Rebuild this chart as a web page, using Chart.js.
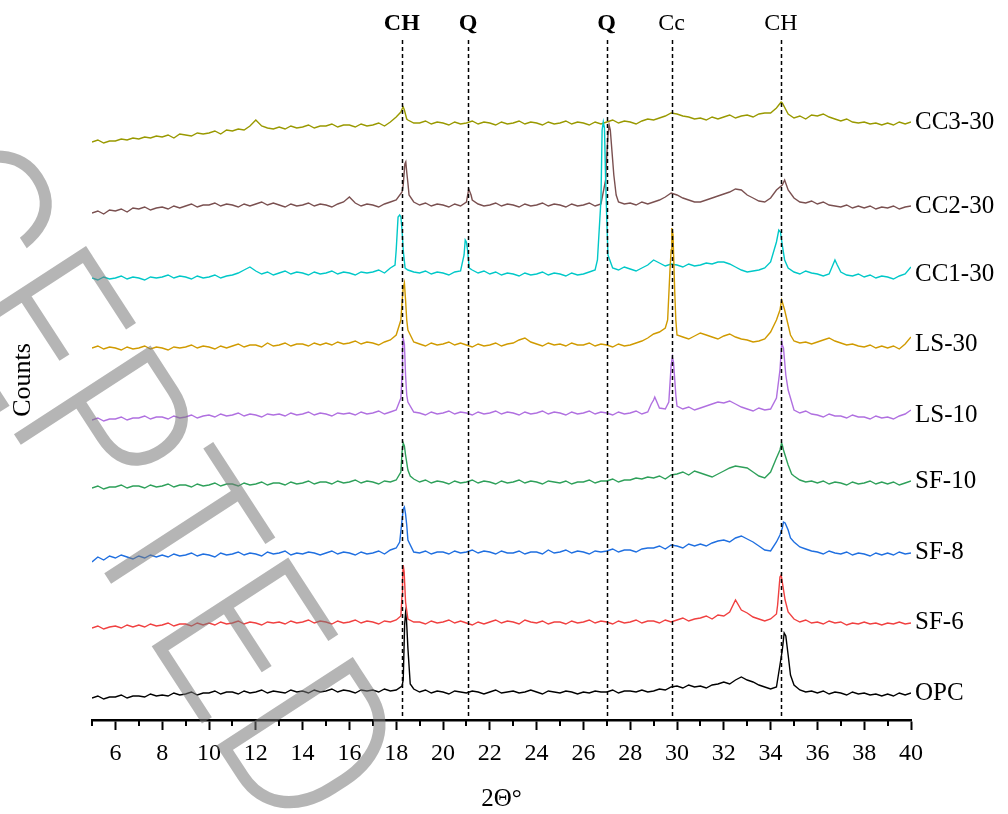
<!DOCTYPE html>
<html>
<head>
<meta charset="utf-8">
<title>XRD patterns</title>
<script src="https://cdn.jsdelivr.net/npm/chart.js@4.4.1/dist/chart.umd.min.js"></script>
<style>
  html, body { margin: 0; padding: 0; background: #fff; }
  canvas { display: block; }
</style>
</head>
<body>
<canvas id="xrd" width="1008" height="814"></canvas>
<script>
// scan grid (2θ, degrees)
const scanStart = 5;
const scanStep = 0.25;
const scanEnd = 40;

const seriesNames = ["OPC", "SF-6", "SF-8", "SF-10", "LS-10", "LS-30", "CC1-30", "CC2-30", "CC3-30"];
const seriesColors = ["#000000", "#f04040", "#1f6fe0", "#2ea05a", "#b070e0", "#d09a00", "#00c8c8", "#7a5050", "#999900"];

// counts on the 0.25° grid (stacked, already offset)
const opc = [
  22, 24, 21, 23, 23, 25, 22, 24, 24, 23, 26, 24, 25, 24, 27, 25, 26, 28, 25, 27,
  27, 29, 26, 28, 28, 26, 29, 27, 28, 30, 27, 29, 28, 27, 30, 28, 29, 27, 30, 28,
  29, 31, 28, 30, 29, 27, 30, 29, 30, 28, 31, 29, 30, 34, 72, 31, 28, 30, 27, 29,
  28, 26, 29, 28, 27, 29, 28, 26, 28, 30, 27, 28, 29, 27, 28, 30, 28, 26, 29, 28,
  27, 29, 28, 26, 28, 27, 29, 28, 28, 30, 27, 29, 29, 28, 30, 28, 29, 31, 30, 33,
  34, 32, 35, 33, 34, 32, 35, 36, 38, 36, 40, 43, 40, 38, 35, 33, 31, 33, 70, 65,
  35, 30, 28, 29, 27, 29, 26, 28, 27, 25, 28, 26, 27, 25, 26, 24, 26, 24, 27, 25,
  27
];
const opcPeaks = [[18.3, 40], [18.36, 95], [18.4, 107], [18.44, 100], [18.6, 36],
  [34.4, 55], [34.58, 87], [34.65, 84], [34.85, 45]];

const sf6 = [
  92, 94, 91, 93, 94, 92, 95, 93, 95, 93, 96, 94, 95, 97, 94, 96, 96, 94, 97, 95,
  97, 95, 98, 96, 97, 99, 96, 98, 97, 95, 98, 97, 98, 96, 99, 97, 98, 100, 97, 99,
  98, 96, 99, 97, 98, 100, 97, 99, 98, 96, 99, 98, 100, 125, 101, 98, 98, 96, 99, 97,
  98, 100, 97, 99, 97, 95, 98, 96, 98, 100, 97, 99, 98, 96, 100, 98, 97, 99, 96, 98,
  98, 96, 99, 97, 98, 100, 97, 99, 98, 96, 99, 97, 98, 100, 97, 99, 99, 97, 100, 98,
  100, 102, 99, 101, 102, 104, 101, 105, 104, 108, 120, 110, 107, 103, 101, 99, 101, 106, 138, 108,
  101, 98, 100, 97, 98, 96, 99, 97, 98, 95, 97, 96, 98, 96, 97, 95, 97, 96, 98, 96,
  97
];
const sf6Peaks = [[18.2, 104], [18.27, 140], [18.3, 155], [18.34, 148], [18.4, 118],
  [34.3, 115], [34.4, 143], [34.45, 145], [34.62, 120]];

const sf8 = [
  158, 163, 160, 164, 162, 165, 163, 161, 164, 162, 165, 163, 165, 163, 166, 164, 165, 167, 164, 166,
  165, 163, 167, 165, 166, 168, 165, 167, 166, 164, 168, 166, 167, 169, 165, 167, 166, 168, 167, 165,
  167, 169, 166, 168, 167, 165, 168, 166, 167, 169, 166, 170, 172, 200, 180, 168, 167, 169, 166, 168,
  168, 166, 169, 167, 168, 170, 167, 169, 168, 166, 169, 167, 167, 169, 166, 168, 168, 166, 170, 167,
  168, 170, 167, 169, 168, 166, 169, 168, 169, 171, 168, 170, 170, 168, 171, 172, 172, 174, 171, 175,
  174, 172, 176, 174, 176, 174, 177, 179, 180, 178, 182, 184, 181, 178, 174, 170, 169, 178, 192, 190,
  178, 173, 171, 169, 168, 166, 169, 167, 166, 168, 165, 167, 166, 164, 167, 165, 167, 165, 168, 166,
  167
];
const sf8Peaks = [[18.15, 178], [18.3, 211], [18.35, 213], [18.4, 206], [18.45, 195],
  [34.4, 185], [34.55, 198], [34.62, 197], [34.85, 182]];

const sf10 = [
  232, 234, 231, 233, 233, 235, 232, 234, 234, 232, 235, 233, 234, 236, 233, 235, 235, 233, 236, 234,
  235, 237, 234, 236, 236, 234, 237, 235, 236, 238, 235, 237, 237, 235, 238, 236, 237, 239, 236, 238,
  238, 236, 239, 237, 238, 240, 237, 239, 238, 236, 239, 238, 240, 268, 250, 241, 238, 240, 237, 239,
  238, 236, 239, 237, 238, 240, 237, 239, 238, 236, 239, 237, 238, 240, 237, 239, 238, 236, 239, 238,
  237, 239, 236, 238, 238, 240, 237, 239, 239, 241, 238, 240, 240, 242, 241, 243, 242, 244, 241, 245,
  246, 248, 245, 249, 247, 245, 243, 246, 249, 252, 254, 253, 252, 248, 244, 242, 248, 262, 275, 255,
  244, 240, 238, 239, 237, 239, 236, 238, 237, 235, 238, 236, 237, 239, 236, 238, 236, 238, 235, 237,
  239
];
const sf10Peaks = [[18.2, 248], [18.3, 277], [18.35, 274], [18.4, 265], [18.6, 244],
  [34.4, 270], [34.47, 277], [34.55, 270], [34.9, 246]];

const ls10 = [
  300, 302, 299, 301, 301, 303, 300, 302, 302, 304, 301, 303, 303, 301, 304, 302, 303, 305, 302, 304,
  305, 303, 306, 304, 305, 307, 304, 306, 305, 303, 306, 305, 306, 304, 307, 305, 306, 308, 305, 307,
  306, 304, 307, 306, 307, 305, 308, 306, 307, 309, 306, 308, 310, 345, 318, 308, 307, 305, 308, 306,
  307, 309, 306, 308, 307, 305, 308, 306, 307, 309, 306, 308, 307, 305, 308, 306, 307, 309, 306, 308,
  307, 305, 308, 306, 307, 309, 306, 308, 307, 305, 308, 306, 307, 309, 306, 308, 320, 312, 311, 355,
  314, 311, 313, 310, 312, 314, 316, 318, 317, 319, 316, 313, 311, 309, 312, 310, 311, 322, 375, 330,
  310, 307, 309, 306, 305, 303, 306, 304, 304, 302, 305, 303, 303, 301, 304, 302, 303, 301, 304, 306,
  310
];
const ls10Peaks = [[18.2, 322], [18.27, 370], [18.3, 382], [18.35, 376], [18.4, 345], [18.45, 325],
  [28.9, 316], [29.05, 323], [29.65, 318], [29.8, 363], [29.85, 358], [29.95, 325],
  [34.4, 350], [34.48, 378], [34.55, 372], [34.65, 345]];

const ls30 = [
  372, 374, 371, 373, 372, 370, 373, 371, 372, 374, 371, 373, 372, 370, 373, 372, 373, 375, 372, 374,
  373, 371, 374, 372, 374, 376, 373, 375, 375, 373, 377, 374, 375, 377, 374, 376, 376, 374, 377, 375,
  377, 375, 378, 376, 377, 379, 376, 378, 377, 375, 378, 380, 385, 418, 390, 378, 376, 374, 377, 375,
  376, 378, 375, 377, 375, 373, 376, 374, 375, 377, 374, 376, 377, 380, 382, 378, 376, 374, 377, 375,
  376, 374, 377, 375, 375, 377, 374, 376, 375, 373, 376, 374, 375, 377, 379, 382, 386, 388, 392, 470,
  385, 383, 381, 384, 387, 385, 383, 381, 384, 386, 383, 381, 380, 378, 379, 381, 388, 400, 418, 395,
  379, 377, 378, 376, 378, 380, 382, 379, 377, 375, 376, 374, 373, 375, 372, 374, 372, 374, 371, 376,
  383
];
const ls30Peaks = [[18.2, 400], [18.3, 432], [18.35, 437], [18.4, 420], [18.45, 400],
  [29.6, 400], [29.7, 450], [29.78, 492], [29.83, 485], [29.9, 430], [29.95, 400],
  [34.4, 410], [34.47, 420], [34.6, 410], [34.85, 385]];

const cc1 = [
  442, 440, 443, 441, 442, 444, 441, 443, 442, 440, 443, 442, 443, 445, 442, 444, 443, 441, 444, 442,
  443, 445, 442, 444, 445, 447, 450, 453, 449, 446, 448, 445, 447, 449, 446, 448, 447, 445, 448, 446,
  447, 449, 446, 448, 447, 445, 448, 447, 448, 450, 447, 452, 470, 490, 450, 448, 447, 449, 446, 448,
  447, 445, 448, 449, 478, 450, 447, 449, 446, 448, 445, 447, 446, 444, 447, 445, 446, 448, 445, 447,
  446, 444, 447, 445, 446, 448, 450, 520, 500, 452, 450, 453, 451, 449, 452, 455, 460, 457, 454, 456,
  455, 453, 456, 454, 455, 457, 456, 458, 458, 456, 453, 450, 448, 449, 450, 452, 458, 478, 475, 452,
  448, 446, 449, 447, 446, 444, 446, 460, 448, 445, 444, 446, 443, 445, 442, 444, 443, 441, 444, 446,
  453
];
const cc1Peaks = [[17.95, 455], [18.08, 503], [18.15, 505], [18.2, 503], [18.3, 470], [18.38, 452],
  [20.9, 465], [20.95, 480], [21.05, 470], [21.12, 452],
  [26.6, 460], [26.7, 500], [26.8, 590], [26.85, 598], [26.9, 592], [26.95, 540], [27.05, 465],
  [34.35, 490], [34.42, 488], [34.6, 460], [36.85, 455]];

const cc2 = [
  507, 509, 506, 510, 509, 511, 508, 512, 511, 513, 510, 512, 513, 511, 514, 512, 514, 516, 513, 515,
  515, 517, 514, 516, 515, 513, 516, 514, 516, 518, 515, 517, 515, 513, 516, 514, 515, 517, 514, 516,
  515, 513, 516, 518, 523, 517, 514, 516, 515, 513, 516, 518, 520, 528, 537, 518, 515, 517, 514, 516,
  515, 513, 516, 514, 518, 520, 516, 514, 515, 517, 514, 516, 515, 513, 516, 514, 515, 517, 514, 516,
  515, 513, 516, 514, 515, 517, 514, 516, 565, 560, 518, 516, 517, 515, 518, 516, 518, 520, 523, 527,
  525, 522, 520, 518, 518, 520, 522, 524, 526, 528, 531, 530, 525, 522, 519, 518, 522, 530, 535, 530,
  522, 518, 517, 519, 516, 518, 515, 514, 513, 515, 512, 514, 512, 514, 511, 513, 512, 514, 511, 513,
  514
];
const cc2Peaks = [[18.3, 535], [18.37, 556], [18.41, 558], [18.45, 548], [18.55, 525],
  [21.1, 531], [21.2, 525],
  [26.95, 540], [27.05, 585], [27.1, 595], [27.15, 590], [27.3, 545], [27.4, 525],
  [34.6, 540]];

const cc3 = [
  578, 580, 577, 579, 579, 581, 580, 582, 581, 583, 582, 584, 583, 585, 582, 586, 585, 584, 587, 586,
  587, 589, 586, 590, 589, 591, 590, 594, 600, 594, 592, 591, 593, 591, 594, 592, 593, 595, 592, 594,
  594, 596, 593, 595, 595, 593, 596, 594, 595, 597, 594, 598, 603, 611, 600, 597, 597, 599, 596, 598,
  597, 595, 598, 596, 597, 599, 596, 598, 597, 595, 598, 596, 597, 599, 596, 598, 597, 595, 598, 596,
  597, 599, 596, 598, 597, 595, 598, 596, 598, 600, 597, 599, 598, 596, 599, 601, 600, 602, 604, 607,
  606, 604, 603, 601, 602, 600, 603, 601, 603, 605, 602, 604, 605, 603, 606, 607, 607, 612, 617, 606,
  602, 604, 601, 605, 604, 606, 603, 601, 599, 601, 598, 597, 598, 596, 597, 595, 597, 595, 598, 596,
  598
];
const cc3Peaks = [[18.2, 608], [18.3, 613], [18.35, 610], [18.45, 601], [34.45, 618]];

const seriesCounts = [opc, sf6, sf8, sf10, ls10, ls30, cc1, cc2, cc3];
const seriesPeaks = [opcPeaks, sf6Peaks, sf8Peaks, sf10Peaks, ls10Peaks, ls30Peaks, cc1Peaks, cc2Peaks, cc3Peaks];

// phase marks
const phaseLines = [18.24, 21.07, 26.99, 29.77, 34.44];
const phaseLabels = ["CH", "Q", "Q", "Cc", "CH"];
const phaseBold = [true, true, true, false, false];

const twoTheta = [];
for (let t = scanStart; t <= scanEnd + 1e-9; t += scanStep) twoTheta.push(+t.toFixed(2));

// junta a grade com os pontos extras dos picos
function buildPoints(counts, peaks) {
  const pts = counts.map((c, i) => ({ x: twoTheta[i], y: c }));
  peaks.forEach(([x, c]) => pts.push({ x, y: c }));
  return pts.sort((a, b) => a.x - b.x);
}

const datasets = seriesNames.map((name, i) => ({
  label: name,
  data: buildPoints(seriesCounts[i], seriesPeaks[i]),
  borderColor: seriesColors[i],
  borderWidth: 1.4,
  pointRadius: 0,
  tension: 0,
  fill: false,
}));

const serif = '"Liberation Serif", "Times New Roman", serif';

const decorations = {
  id: "decorations",
  afterDatasetsDraw(chart) {
    const { ctx, chartArea, scales: { x, y } } = chart;
    ctx.save();

    // minor ticks (odd values)
    ctx.strokeStyle = "#000";
    ctx.lineWidth = 2;
    for (let v = scanStart; v < scanEnd; v += 2) {
      const px = Math.round(x.getPixelForValue(v));
      ctx.beginPath();
      ctx.moveTo(px, chartArea.bottom);
      ctx.lineTo(px, chartArea.bottom + 6);
      ctx.stroke();
    }

    // dashed phase lines
    ctx.setLineDash([4, 3]);
    ctx.lineWidth = 1.5;
    phaseLines.forEach((v) => {
      const px = Math.round(x.getPixelForValue(v)) + 0.5;
      ctx.beginPath();
      ctx.moveTo(px, chartArea.top);
      ctx.lineTo(px, chartArea.bottom);
      ctx.stroke();
    });
    ctx.setLineDash([]);

    // phase labels
    ctx.fillStyle = "#000";
    ctx.textAlign = "center";
    ctx.textBaseline = "alphabetic";
    phaseLines.forEach((v, i) => {
      ctx.font = `${phaseBold[i] ? "bold " : ""}24px ${serif}`;
      ctx.fillText(phaseLabels[i], x.getPixelForValue(v), 30);
    });

    // series names at right end
    ctx.textAlign = "left";
    ctx.textBaseline = "middle";
    ctx.font = `25px ${serif}`;
    seriesNames.forEach((name, i) => {
      const tail = seriesCounts[i].slice(-8);
      const level = tail.reduce((a, b) => a + b, 0) / tail.length;
      ctx.fillText(name, chartArea.right + 4, y.getPixelForValue(level) - 1);
    });
    ctx.restore();
  },
  afterDraw(chart) {
    // marca d'agua
    const ctx = chart.ctx;
    const fs = 229, sx = 0.91, ang = 57 * Math.PI / 180;
    ctx.save();
    ctx.font = `300 ${fs}px Roboto, "Liberation Sans", sans-serif`;
    const along = (ctx.measureText("ACCE").width + ctx.measureText("P").width / 2) * sx;
    const half = 0.711 * fs / 2;
    const dx = Math.cos(ang), dy = Math.sin(ang);
    const ux = Math.sin(ang), uy = -Math.cos(ang);
    // centro do "P"
    const ox = 107 - along * dx - half * ux;
    const oy = 428 - along * dy - half * uy;
    ctx.translate(ox, oy);
    ctx.rotate(ang);
    ctx.scale(sx, 1);
    ctx.fillStyle = "rgba(120,120,120,0.55)";
    ctx.textBaseline = "alphabetic";
    ctx.fillText("ACCEPTED", 0, 0);
    ctx.restore();
  },
};

new Chart(document.getElementById("xrd").getContext("2d"), {
  type: "line",
  data: { datasets },
  plugins: [decorations],
  options: {
    responsive: false,
    animation: false,
    devicePixelRatio: 1,
    events: [],
    layout: { padding: { left: 8, right: 97, top: 40, bottom: 0 } },
    plugins: { legend: { display: false }, tooltip: { enabled: false } },
    scales: {
      x: {
        type: "linear",
        min: scanStart,
        max: scanEnd,
        afterFit: (scale) => { scale.height = 94; },
        ticks: {
          stepSize: 1,
          autoSkip: false,
          maxRotation: 0,
          padding: 9,
          color: "#000",
          font: { family: serif, size: 24 },
          callback: (v) => (v % 2 === 0 ? String(v) : ""),
        },
        grid: {
          drawOnChartArea: false,
          drawTicks: true,
          tickLength: 10,
          tickWidth: 2,
          tickColor: (c) => (c.tick && c.tick.value % 2 === 0 ? "#000" : "rgba(0,0,0,0)"),
        },
        border: { display: true, color: "#000", width: 2.5 },
        title: {
          display: true,
          text: "2Θ°",
          color: "#000",
          font: { family: serif, size: 25 },
          padding: { top: 0, bottom: 0 },
        },
      },
      y: {
        type: "linear",
        min: 0,
        max: 680,
        afterFit: (scale) => { scale.width = 84; },
        ticks: { display: false },
        grid: { display: false, drawTicks: false },
        border: { display: false },
        title: {
          display: true,
          text: "Counts",
          color: "#000",
          font: { family: serif, size: 26 },
          padding: { top: 0, bottom: 0 },
        },
      },
    },
  },
});
</script>
</body>
</html>
